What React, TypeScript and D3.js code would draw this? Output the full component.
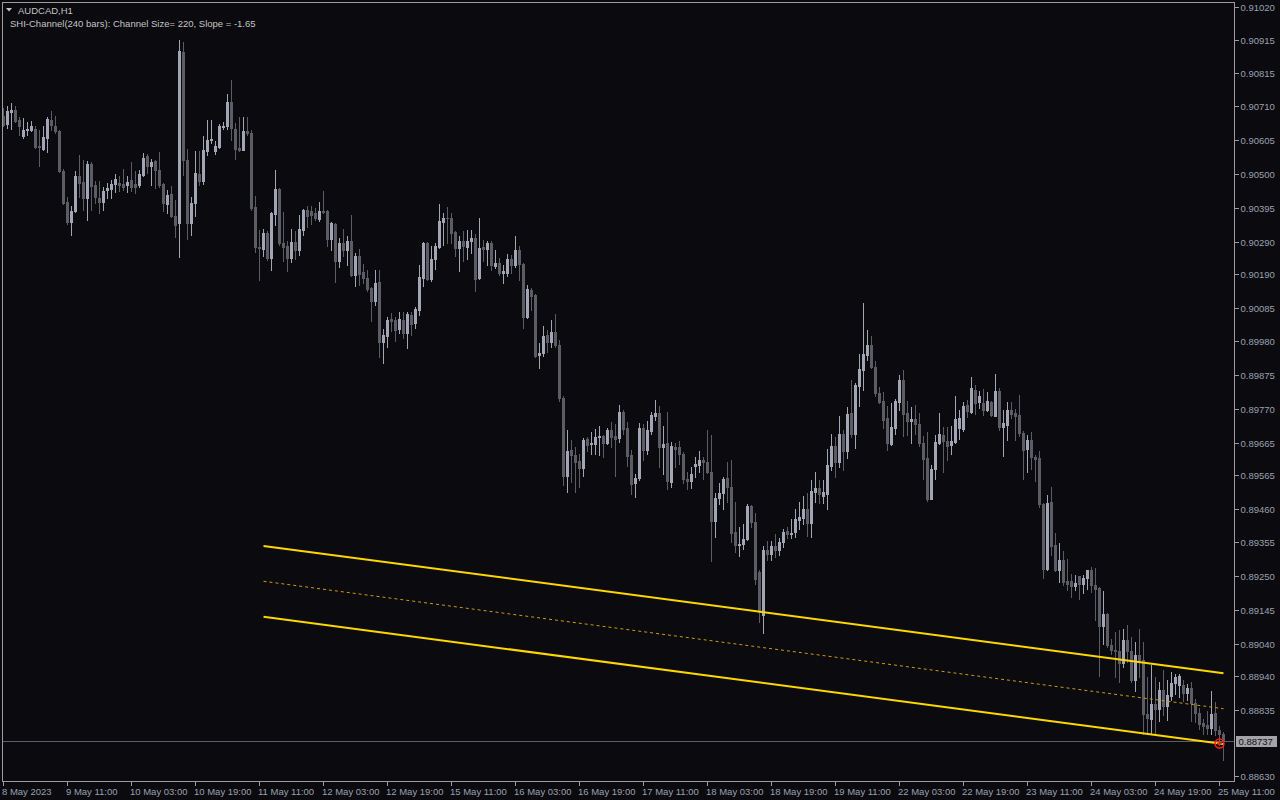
import React, { useEffect } from "react";
import * as d3 from "d3";

const SYMBOL = "AUDCAD,H1";
const INDICATOR = "SHI-Channel(240 bars): Channel Size= 220, Slope = -1.65";

const OPEN = [
  0.90681,0.90656,0.90692,0.90700,0.90667,0.90617,0.90636,0.90638,0.90641,0.90588,
  0.90579,0.90611,0.90669,0.90650,0.90635,0.90510,0.90414,0.90351,0.90386,0.90493,
  0.90476,0.90426,0.90532,0.90467,0.90426,0.90414,0.90449,0.90453,0.90468,0.90473,
  0.90470,0.90467,0.90480,0.90470,0.90467,0.90498,0.90555,0.90526,0.90539,0.90513,
  0.90469,0.90408,0.90439,0.90370,0.90347,0.90880,0.90542,0.90349,0.90410,0.90500,
  0.90477,0.90572,0.90607,0.90573,0.90583,0.90646,0.90648,0.90723,0.90641,0.90582,
  0.90576,0.90635,0.90626,0.90397,0.90274,0.90268,0.90318,0.90238,0.90375,0.90454,
  0.90287,0.90277,0.90240,0.90290,0.90265,0.90326,0.90387,0.90385,0.90380,0.90361,
  0.90384,0.90385,0.90298,0.90345,0.90231,0.90287,0.90264,0.90292,0.90186,0.90245,
  0.90195,0.90178,0.90146,0.90105,0.90165,0.89978,0.89997,0.90049,0.90047,0.90017,
  0.90046,0.90005,0.90062,0.90036,0.90078,0.90177,0.90287,0.90173,0.90236,0.90274,
  0.90352,0.90363,0.90364,0.90320,0.90271,0.90292,0.90274,0.90292,0.90300,0.90176,
  0.90274,0.90267,0.90285,0.90215,0.90223,0.90191,0.90193,0.90235,0.90217,0.90264,
  0.90219,0.90057,0.90140,0.90124,0.89937,0.89945,0.89999,0.89979,0.90008,0.89968,
  0.89803,0.89561,0.89641,0.89626,0.89607,0.89585,0.89675,0.89660,0.89662,0.89683,
  0.89685,0.89664,0.89704,0.89685,0.89678,0.89761,0.89710,0.89626,0.89538,0.89554,
  0.89710,0.89641,0.89700,0.89748,0.89756,0.89650,0.89664,0.89544,0.89652,0.89650,
  0.89631,0.89553,0.89546,0.89592,0.89597,0.89610,0.89606,0.89575,0.89422,0.89492,
  0.89509,0.89554,0.89526,0.89386,0.89347,0.89349,0.89364,0.89469,0.89417,0.89262,
  0.89130,0.89330,0.89320,0.89345,0.89330,0.89355,0.89389,0.89382,0.89387,0.89425,
  0.89430,0.89458,0.89415,0.89512,0.89524,0.89500,0.89505,0.89593,0.89654,0.89605,
  0.89693,0.89640,0.89756,0.89691,0.89842,0.89890,0.89937,0.89970,0.89899,0.89820,
  0.89795,0.89740,0.89662,0.89712,0.89792,0.89859,0.89757,0.89733,0.89738,0.89722,
  0.89664,0.89616,0.89491,0.89582,0.89664,0.89690,0.89671,0.89657,0.89668,0.89709,
  0.89707,0.89782,0.89761,0.89830,0.89791,0.89787,0.89766,0.89792,0.89749,0.89825,
  0.89714,0.89719,0.89766,0.89756,0.89750,0.89696,0.89645,0.89673,0.89621,0.89616,
  0.89474,0.89271,0.89480,0.89346,0.89268,0.89299,0.89234,0.89234,0.89218,0.89249,
  0.89227,0.89244,0.89268,0.89223,0.89213,0.89095,0.89133,0.89036,0.89021,0.89017,
  0.88980,0.89052,0.89018,0.88926,0.89004,0.88988,0.88820,0.88806,0.88853,0.88838,
  0.88897,0.88845,0.88876,0.88918,0.88913,0.88913,0.88886,0.88903,0.88857,0.88824,
  0.88795,0.88786,0.88778,0.88824,0.88772,0.88758,
];

const HIGH = [
  0.90705,0.90712,0.90721,0.90712,0.90677,0.90674,0.90661,0.90666,0.90648,0.90638,
  0.90648,0.90677,0.90697,0.90679,0.90637,0.90516,0.90430,0.90399,0.90510,0.90560,
  0.90544,0.90541,0.90536,0.90477,0.90477,0.90461,0.90472,0.90482,0.90500,0.90493,
  0.90515,0.90493,0.90537,0.90510,0.90513,0.90565,0.90563,0.90548,0.90544,0.90568,
  0.90472,0.90451,0.90463,0.90420,0.90918,0.90911,0.90578,0.90427,0.90573,0.90570,
  0.90617,0.90669,0.90669,0.90601,0.90656,0.90661,0.90750,0.90793,0.90659,0.90677,
  0.90677,0.90677,0.90638,0.90432,0.90326,0.90328,0.90323,0.90383,0.90513,0.90458,
  0.90381,0.90292,0.90328,0.90323,0.90373,0.90392,0.90402,0.90402,0.90394,0.90412,
  0.90448,0.90389,0.90352,0.90347,0.90300,0.90328,0.90306,0.90373,0.90254,0.90267,
  0.90221,0.90202,0.90150,0.90202,0.90202,0.90018,0.90057,0.90067,0.90057,0.90072,
  0.90072,0.90070,0.90072,0.90088,0.90217,0.90290,0.90290,0.90276,0.90287,0.90407,
  0.90378,0.90397,0.90378,0.90324,0.90306,0.90323,0.90326,0.90326,0.90313,0.90363,
  0.90295,0.90292,0.90293,0.90264,0.90238,0.90217,0.90251,0.90248,0.90308,0.90276,
  0.90223,0.90155,0.90145,0.90126,0.89974,0.90028,0.90015,0.90046,0.90065,0.89984,
  0.89810,0.89704,0.89673,0.89652,0.89631,0.89678,0.89683,0.89698,0.89706,0.89716,
  0.89690,0.89711,0.89730,0.89724,0.89781,0.89766,0.89730,0.89641,0.89569,0.89727,
  0.89724,0.89733,0.89761,0.89797,0.89778,0.89717,0.89760,0.89667,0.89664,0.89669,
  0.89636,0.89574,0.89590,0.89621,0.89639,0.89621,0.89704,0.89688,0.89507,0.89538,
  0.89558,0.89605,0.89610,0.89481,0.89403,0.89411,0.89475,0.89471,0.89446,0.89270,
  0.89345,0.89360,0.89360,0.89380,0.89370,0.89395,0.89403,0.89429,0.89458,0.89479,
  0.89498,0.89507,0.89550,0.89574,0.89548,0.89548,0.89645,0.89693,0.89683,0.89747,
  0.89704,0.89776,0.89859,0.89851,0.89942,0.90098,0.90015,0.89997,0.89919,0.89837,
  0.89823,0.89779,0.89787,0.89802,0.89875,0.89891,0.89794,0.89776,0.89782,0.89758,
  0.89685,0.89699,0.89595,0.89690,0.89756,0.89714,0.89714,0.89716,0.89810,0.89766,
  0.89792,0.89799,0.89868,0.89844,0.89825,0.89831,0.89821,0.89794,0.89878,0.89834,
  0.89766,0.89790,0.89790,0.89771,0.89813,0.89701,0.89690,0.89697,0.89628,0.89639,
  0.89478,0.89502,0.89528,0.89384,0.89353,0.89328,0.89302,0.89258,0.89253,0.89250,
  0.89253,0.89270,0.89279,0.89275,0.89216,0.89203,0.89135,0.89056,0.89076,0.89083,
  0.89087,0.89097,0.89061,0.89045,0.89087,0.89046,0.88936,0.88973,0.88936,0.88921,
  0.88957,0.88928,0.88952,0.88947,0.88947,0.88926,0.88915,0.88921,0.88869,0.88841,
  0.88807,0.88832,0.88893,0.88858,0.88783,0.88765,
];

const LOW = [
  0.90648,0.90643,0.90641,0.90661,0.90622,0.90611,0.90621,0.90633,0.90581,0.90526,
  0.90576,0.90567,0.90638,0.90627,0.90505,0.90406,0.90345,0.90309,0.90381,0.90427,
  0.90389,0.90358,0.90389,0.90410,0.90378,0.90389,0.90425,0.90425,0.90443,0.90446,
  0.90451,0.90443,0.90446,0.90441,0.90461,0.90495,0.90503,0.90467,0.90458,0.90461,
  0.90384,0.90378,0.90365,0.90304,0.90241,0.90498,0.90298,0.90309,0.90368,0.90467,
  0.90470,0.90560,0.90596,0.90563,0.90581,0.90640,0.90640,0.90605,0.90548,0.90573,
  0.90574,0.90622,0.90387,0.90259,0.90169,0.90245,0.90233,0.90202,0.90340,0.90280,
  0.90231,0.90197,0.90225,0.90235,0.90248,0.90311,0.90335,0.90344,0.90357,0.90355,
  0.90378,0.90276,0.90264,0.90165,0.90212,0.90245,0.90217,0.90184,0.90153,0.90155,
  0.90160,0.90136,0.90043,0.90093,0.89932,0.89913,0.89963,0.90013,0.89982,0.90005,
  0.89989,0.89960,0.89999,0.90022,0.90062,0.90152,0.90169,0.90168,0.90204,0.90271,
  0.90280,0.90287,0.90285,0.90245,0.90200,0.90231,0.90235,0.90254,0.90137,0.90173,
  0.90231,0.90217,0.90202,0.90207,0.90186,0.90160,0.90183,0.90191,0.90212,0.90171,
  0.90022,0.90051,0.90077,0.89932,0.89898,0.89934,0.89948,0.89963,0.89963,0.89795,
  0.89532,0.89512,0.89543,0.89512,0.89527,0.89561,0.89639,0.89631,0.89631,0.89626,
  0.89619,0.89662,0.89652,0.89561,0.89667,0.89693,0.89593,0.89504,0.89496,0.89549,
  0.89610,0.89631,0.89693,0.89735,0.89590,0.89569,0.89522,0.89527,0.89590,0.89600,
  0.89538,0.89522,0.89524,0.89558,0.89574,0.89553,0.89571,0.89297,0.89372,0.89475,
  0.89460,0.89481,0.89356,0.89325,0.89313,0.89335,0.89361,0.89403,0.89226,0.89106,
  0.89072,0.89300,0.89300,0.89310,0.89315,0.89340,0.89367,0.89367,0.89372,0.89398,
  0.89413,0.89374,0.89372,0.89481,0.89478,0.89476,0.89459,0.89579,0.89559,0.89590,
  0.89579,0.89616,0.89683,0.89649,0.89779,0.89828,0.89922,0.89896,0.89810,0.89789,
  0.89709,0.89642,0.89658,0.89693,0.89766,0.89685,0.89688,0.89664,0.89693,0.89654,
  0.89551,0.89484,0.89489,0.89553,0.89660,0.89574,0.89610,0.89631,0.89664,0.89675,
  0.89702,0.89745,0.89758,0.89753,0.89774,0.89751,0.89764,0.89747,0.89747,0.89704,
  0.89624,0.89673,0.89740,0.89673,0.89686,0.89551,0.89574,0.89583,0.89545,0.89465,
  0.89244,0.89268,0.89315,0.89265,0.89232,0.89221,0.89206,0.89185,0.89206,0.89180,
  0.89198,0.89211,0.89201,0.89113,0.88941,0.89040,0.89030,0.89009,0.88936,0.88921,
  0.88967,0.88983,0.88921,0.88893,0.88936,0.88760,0.88760,0.88762,0.88762,0.88801,
  0.88817,0.88803,0.88864,0.88884,0.88874,0.88862,0.88864,0.88801,0.88796,0.88775,
  0.88760,0.88760,0.88760,0.88755,0.88729,0.88677,
];

const CLOSE = [
  0.90653,0.90695,0.90700,0.90664,0.90648,0.90638,0.90641,0.90650,0.90584,0.90583,
  0.90614,0.90672,0.90651,0.90633,0.90509,0.90410,0.90350,0.90386,0.90493,0.90472,
  0.90425,0.90530,0.90463,0.90427,0.90414,0.90448,0.90457,0.90470,0.90485,0.90467,
  0.90461,0.90476,0.90461,0.90461,0.90501,0.90550,0.90524,0.90538,0.90511,0.90465,
  0.90410,0.90436,0.90368,0.90342,0.90882,0.90542,0.90349,0.90410,0.90503,0.90477,
  0.90576,0.90607,0.90610,0.90588,0.90650,0.90650,0.90723,0.90642,0.90579,0.90576,
  0.90635,0.90626,0.90395,0.90274,0.90270,0.90318,0.90238,0.90378,0.90454,0.90287,
  0.90274,0.90240,0.90290,0.90264,0.90328,0.90389,0.90368,0.90373,0.90363,0.90385,
  0.90382,0.90298,0.90347,0.90231,0.90287,0.90264,0.90292,0.90186,0.90245,0.90189,
  0.90176,0.90143,0.90105,0.90161,0.89978,0.89999,0.90046,0.90044,0.90015,0.90049,
  0.90005,0.90065,0.90034,0.90080,0.90179,0.90287,0.90173,0.90236,0.90276,0.90355,
  0.90363,0.90362,0.90318,0.90271,0.90292,0.90276,0.90292,0.90300,0.90174,0.90269,
  0.90267,0.90285,0.90217,0.90223,0.90193,0.90199,0.90236,0.90217,0.90264,0.90219,
  0.90057,0.90143,0.90122,0.89935,0.89945,0.89996,0.89979,0.90008,0.89968,0.89803,
  0.89561,0.89639,0.89626,0.89605,0.89585,0.89673,0.89657,0.89664,0.89683,0.89685,
  0.89664,0.89704,0.89683,0.89676,0.89759,0.89707,0.89623,0.89536,0.89556,0.89710,
  0.89641,0.89704,0.89750,0.89756,0.89652,0.89660,0.89546,0.89654,0.89645,0.89629,
  0.89551,0.89545,0.89569,0.89598,0.89612,0.89604,0.89573,0.89421,0.89492,0.89507,
  0.89553,0.89527,0.89384,0.89347,0.89349,0.89364,0.89469,0.89417,0.89240,0.89137,
  0.89330,0.89320,0.89345,0.89330,0.89355,0.89387,0.89380,0.89385,0.89429,0.89433,
  0.89458,0.89415,0.89514,0.89523,0.89505,0.89512,0.89595,0.89654,0.89605,0.89691,
  0.89640,0.89754,0.89693,0.89844,0.89894,0.89940,0.89968,0.89899,0.89818,0.89792,
  0.89735,0.89664,0.89714,0.89794,0.89859,0.89755,0.89732,0.89738,0.89722,0.89664,
  0.89614,0.89491,0.89582,0.89666,0.89691,0.89671,0.89655,0.89670,0.89738,0.89740,
  0.89779,0.89764,0.89834,0.89789,0.89810,0.89766,0.89794,0.89751,0.89825,0.89714,
  0.89727,0.89766,0.89753,0.89747,0.89696,0.89642,0.89673,0.89619,0.89614,0.89474,
  0.89271,0.89476,0.89344,0.89268,0.89299,0.89232,0.89227,0.89218,0.89229,0.89225,
  0.89245,0.89268,0.89221,0.89211,0.89095,0.89133,0.89035,0.89019,0.89017,0.88980,
  0.89052,0.89017,0.88926,0.89004,0.88988,0.88820,0.88809,0.88853,0.88838,0.88897,
  0.88845,0.88879,0.88919,0.88938,0.88941,0.88887,0.88903,0.88855,0.88824,0.88791,
  0.88783,0.88778,0.88820,0.88772,0.88758,0.88737,
];

const PRICE_TICKS = [
  0.91020, 0.90915, 0.90815, 0.90710, 0.90605, 0.90500, 0.90395, 0.90290,
  0.90190, 0.90085, 0.89980, 0.89875, 0.89770, 0.89665, 0.89565, 0.89460,
  0.89355, 0.89250, 0.89145, 0.89040, 0.88940, 0.88835, 0.88630,
];

const TIME_TICK_BARS = [0, 16, 32, 48, 64, 80, 96, 112, 128, 144, 160, 176, 192, 208, 224, 240, 256, 272, 288, 304];
const TIME_TICK_LABELS = [
  "8 May 2023", "9 May 11:00", "10 May 03:00", "10 May 19:00", "11 May 11:00",
  "12 May 03:00", "12 May 19:00", "15 May 11:00", "16 May 03:00", "16 May 19:00",
  "17 May 11:00", "18 May 03:00", "18 May 19:00", "19 May 11:00", "22 May 03:00",
  "22 May 19:00", "23 May 11:00", "24 May 03:00", "24 May 19:00", "25 May 11:00",
];

const CHANNEL_BARS = [65, 305];
const CHANNEL_UPPER = [0.89344, 0.88948];
const CHANNEL_MIDDLE = [0.89234, 0.88838];
const CHANNEL_LOWER = [0.89124, 0.88728];
const TOUCH_BAR = 304;
const TOUCH_PRICE = 0.8873;
const LAST_PRICE = 0.88737;

const BG = "#0a0a0f";
const BULL = "#a2a5b3";
const BEAR = "#5b5c64";
const FRAME = "#9c9c9c";
const AXIS_TEXT = "#9aa1ae";
const TITLE_TEXT = "#c4c4c4";
const GOLD = "#ffd700";
const GOLD_DASH = "#cf9a0c";
const FONT = "'Liberation Sans', Arial, sans-serif";

const PLOT_L = 2;
const PLOT_T = 2;
const PLOT_R = 1234;
const PLOT_B = 781;

export default function App() {
  useEffect(() => {
    document.body.style.margin = "0";
    document.body.style.background = BG;
  }, []);

  const x = d3.scaleLinear().domain([0, OPEN.length - 1]).range([3, 3 + 4 * (OPEN.length - 1)]);
  const y = d3.scaleLinear().domain([0.8863, 0.9102]).range([775.6, 6.7]);
  const line = d3
    .line<[number, number]>()
    .x((d) => x(d[0]) + 0.5)
    .y((d) => y(d[1]));

  const chan = (vals: number[]) =>
    line(CHANNEL_BARS.map((b, i) => [b, vals[i]] as [number, number])) || "";

  const lastY = Math.round(y(LAST_PRICE));
  const tx = x(TOUCH_BAR) + 0.5;
  const ty = y(TOUCH_PRICE);

  return (
    <svg
      width={1280}
      height={800}
      style={{ position: "absolute", left: 0, top: 0, display: "block" }}
      fontFamily={FONT}
    >
      <rect x={0} y={0} width={1280} height={800} fill={BG} />
      <defs>
        <clipPath id="plotclip">
          <rect x={PLOT_L + 1} y={PLOT_T + 1} width={PLOT_R - PLOT_L - 1} height={PLOT_B - PLOT_T - 1} />
        </clipPath>
      </defs>

      {/* bid line */}
      <line x1={PLOT_L} x2={PLOT_R} y1={lastY + 0.5} y2={lastY + 0.5} stroke="#5e5e66" strokeWidth={1} />

      {/* candles */}
      <g clipPath="url(#plotclip)" shapeRendering="crispEdges">
        {OPEN.map((o, i) => {
          const c = CLOSE[i];
          const col = c >= o ? BULL : BEAR;
          const cx = Math.round(x(i));
          const yt = Math.round(y(Math.max(o, c)));
          const yb = Math.round(y(Math.min(o, c)));
          const yh = Math.round(y(HIGH[i]));
          const yl = Math.round(y(LOW[i]));
          return (
            <g key={i}>
              <rect x={cx} y={yh} width={1} height={Math.max(1, yl - yh + 1)} fill={col} />
              <rect x={cx - 1} y={yt} width={3} height={Math.max(1, yb - yt + 1)} fill={col} />
            </g>
          );
        })}
      </g>

      {/* SHI channel */}
      <g clipPath="url(#plotclip)">
        <path d={chan(CHANNEL_MIDDLE)} stroke={GOLD_DASH} strokeWidth={1} strokeDasharray="3,3" fill="none" />
        <path d={chan(CHANNEL_UPPER)} stroke={GOLD} strokeWidth={2} fill="none" />
        <path d={chan(CHANNEL_LOWER)} stroke={GOLD} strokeWidth={2} fill="none" />
        <circle cx={tx} cy={ty} r={4.5} fill="none" stroke="#ff1a1a" strokeWidth={1.5} />
        <line x1={tx - 2.5} x2={tx + 2.5} y1={ty} y2={ty} stroke="#ff1a1a" strokeWidth={1} />
        <line x1={tx} x2={tx} y1={ty - 2.5} y2={ty + 2.5} stroke="#ff1a1a" strokeWidth={1} />
      </g>

      {/* frame */}
      <g shapeRendering="crispEdges">
        <line x1={PLOT_L + 0.5} x2={PLOT_L + 0.5} y1={PLOT_T} y2={PLOT_B + 1} stroke={FRAME} />
        <line x1={PLOT_L} x2={PLOT_R + 1} y1={PLOT_T + 0.5} y2={PLOT_T + 0.5} stroke={FRAME} />
        <line x1={PLOT_R + 0.5} x2={PLOT_R + 0.5} y1={PLOT_T} y2={PLOT_B + 1} stroke={FRAME} />
        <line x1={PLOT_L} x2={PLOT_R + 1} y1={PLOT_B + 0.5} y2={PLOT_B + 0.5} stroke={FRAME} />
      </g>

      {/* price axis */}
      <g>
        {PRICE_TICKS.map((p) => {
          const yy = Math.round(y(p));
          return (
            <g key={p}>
              <line x1={PLOT_R + 1} x2={PLOT_R + 5} y1={yy + 0.5} y2={yy + 0.5} stroke={FRAME} shapeRendering="crispEdges" />
              <text x={PLOT_R + 6.5} y={yy + 3.5} fontSize={9.5} fill={AXIS_TEXT}>
                {p.toFixed(5)}
              </text>
            </g>
          );
        })}
        <rect x={PLOT_R + 2} y={lastY - 5} width={41} height={11} fill="#a3a3a8" shapeRendering="crispEdges" />
        <text x={PLOT_R + 4.5} y={lastY + 4} fontSize={9.5} fill="#101014">
          {LAST_PRICE.toFixed(5)}
        </text>
      </g>

      {/* time axis */}
      <g>
        {TIME_TICK_BARS.map((b, i) => {
          const xx = Math.round(x(b));
          return (
            <g key={b}>
              <line x1={xx + 0.5} x2={xx + 0.5} y1={PLOT_B + 1} y2={PLOT_B + 5} stroke={FRAME} shapeRendering="crispEdges" />
              <text x={xx - 1} y={795} fontSize={9.5} fill={AXIS_TEXT}>
                {TIME_TICK_LABELS[i]}
              </text>
            </g>
          );
        })}
      </g>

      {/* titles */}
      <path d="M6,8 L12,8 L9,11.5 Z" fill={TITLE_TEXT} />
      <text x={18} y={14} fontSize={9.5} fill={TITLE_TEXT}>
        {SYMBOL}
      </text>
      <text x={10} y={27} fontSize={9.5} fill={TITLE_TEXT}>
        {INDICATOR}
      </text>
    </svg>
  );
}
